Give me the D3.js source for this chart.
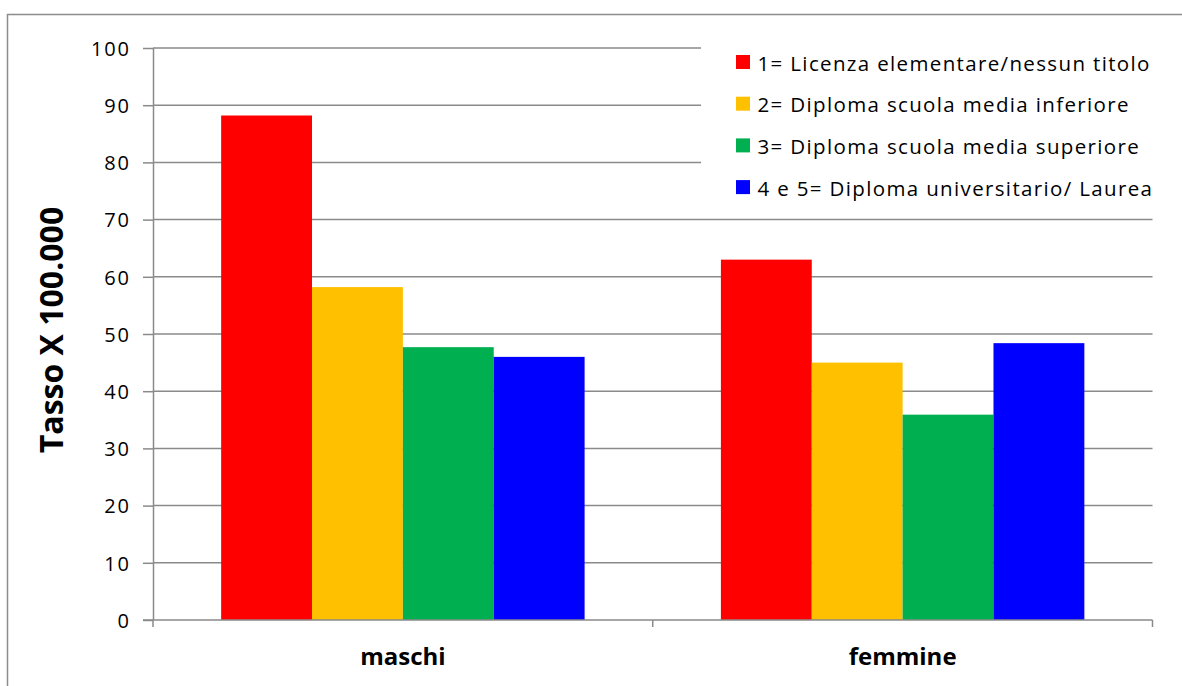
<!DOCTYPE html>
<html>
<head>
<meta charset="utf-8">
<script src="https://cdn.jsdelivr.net/npm/d3@7"></script>
<style>
  html, body { margin: 0; padding: 0; background: #fff; }
  svg { display: block; }
</style>
</head>
<body>
<svg id="chart" width="1182" height="686"></svg>
<script>
// ---- data ----
const categories = ["maschi", "femmine"];
const seriesNames = [
  "1= Licenza elementare/nessun titolo",
  "2= Diploma scuola media inferiore",
  "3= Diploma scuola media superiore",
  "4 e 5= Diploma universitario/ Laurea"
];
const licenzaElementare = [88.2, 63.0];
const mediaInferiore   = [58.2, 45.0];
const mediaSuperiore   = [47.7, 35.9];
const universitario    = [46.0, 48.4];
const seriesColors = ["#FF0000", "#FFC000", "#00B050", "#0000FF"];
const yTicks = [0, 10, 20, 30, 40, 50, 60, 70, 80, 90, 100];
const yTitle = "Tasso X 100.000";

const seriesValues = [licenzaElementare, mediaInferiore, mediaSuperiore, universitario];

// ---- layout ----
const svg = d3.select("#chart");
const plotLeft = 153, plotRight = 1152.5, plotTop = 48, plotBottom = 620;
const gridColor = "#8a8a8a";
const font = "'Open Sans', 'Liberation Sans', sans-serif";

// outer frame
svg.append("rect")
  .attr("x", 7.5).attr("y", 14.5)
  .attr("width", 1200).attr("height", 700)
  .attr("fill", "none").attr("stroke", "#8c8c8c").attr("stroke-width", 1.5);

const y = d3.scaleLinear().domain([0, 100]).range([plotBottom, plotTop]);
const x0 = d3.scaleBand().domain(categories).range([plotLeft, plotRight]).padding(0);
const x1 = d3.scaleBand().domain(seriesNames).range([0, x0.bandwidth()])
  .paddingInner(0).paddingOuter(0.75);

// gridlines
svg.append("g").selectAll("line").data(yTicks.filter(d => d > 0)).join("line")
  .attr("x1", plotLeft).attr("x2", plotRight)
  .attr("y1", d => y(d)).attr("y2", d => y(d))
  .attr("stroke", gridColor).attr("stroke-width", 1.5);

// bars
const rows = [];
categories.forEach((c, ci) => seriesNames.forEach((s, si) => rows.push({c, s, si, v: seriesValues[si][ci]})));
svg.append("g").selectAll("rect").data(rows).join("rect")
  .attr("x", d => x0(d.c) + x1(d.s))
  .attr("width", x1.bandwidth())
  .attr("y", d => y(d.v))
  .attr("height", d => y(0) - y(d.v))
  .attr("fill", d => seriesColors[d.si]);

// y axis
const yAxis = d3.axisLeft(y).tickValues(yTicks).tickSize(10).tickPadding(14);
const gy = svg.append("g").attr("transform", `translate(${plotLeft},0)`).call(yAxis);
gy.select(".domain").attr("stroke", gridColor).attr("stroke-width", 1.5).attr("d", `M0.5,${plotTop}V${plotBottom}`);
gy.selectAll(".tick line").attr("stroke", gridColor).attr("stroke-width", 1.5);
gy.selectAll(".tick text")
  .attr("font-family", font).attr("font-size", 20).attr("fill", "#000")
  .attr("letter-spacing", "1.8px").attr("dx", "1.8px").attr("dy", "0.36em");

// x axis
const xAxis = d3.axisBottom(x0).tickSize(0).tickFormat("");
const gx = svg.append("g").attr("transform", `translate(0,${plotBottom})`).call(xAxis);
gx.select(".domain").attr("stroke", gridColor).attr("stroke-width", 1.5)
  .attr("d", `M${plotLeft - 10},0H${plotRight}`);
gx.selectAll(".tick").remove();
const boundaries = [plotLeft, ...categories.slice(1).map(c => x0(c)), plotRight];
gx.selectAll("line.b").data(boundaries).join("line")
  .attr("class", "b")
  .attr("x1", d => d).attr("x2", d => d).attr("y1", 0).attr("y2", 7)
  .attr("stroke", gridColor).attr("stroke-width", 1.5);

// category labels
svg.append("g").selectAll("text").data(categories).join("text")
  .attr("x", d => x0(d) + x0.bandwidth() / 2)
  .attr("y", 665)
  .attr("text-anchor", "middle")
  .attr("font-family", font).attr("font-weight", "bold").attr("font-size", 24)
  .attr("fill", "#000")
  .text(d => d);

// y title
svg.append("text")
  .attr("transform", "translate(63,330) rotate(-90)")
  .attr("text-anchor", "middle")
  .attr("font-family", font).attr("font-weight", "bold").attr("font-size", 32)
  .attr("fill", "#000")
  .text(yTitle);

// legend
const lg = svg.append("g");
lg.append("rect").attr("x", 701).attr("y", 32).attr("width", 455).attr("height", 180).attr("fill", "#fff");
const li = lg.selectAll("g.item").data(seriesNames).join("g")
  .attr("class", "item")
  .attr("transform", (d, i) => `translate(736,${62 + i * 41.7})`);
li.append("rect").attr("x", 0).attr("y", -7).attr("width", 14).attr("height", 14)
  .attr("fill", (d, i) => seriesColors[i]);
li.append("text").attr("x", 21.5).attr("y", 8.5)
  .attr("font-family", font).attr("font-size", 20.5).attr("fill", "#000")
  .attr("letter-spacing", "1.35px")
  .text(d => d);
</script>
</body>
</html>
